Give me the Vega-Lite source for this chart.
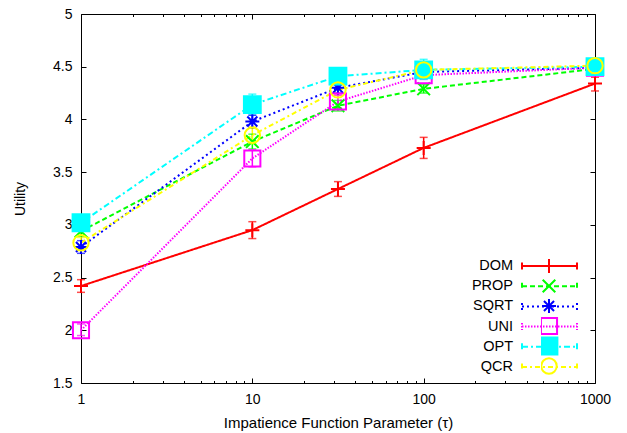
{
  "$schema": "https://vega.github.io/schema/vega-lite/v6.json",
  "autosize": {"type": "none"},
  "width": 514,
  "height": 369,
  "padding": {"left": 81, "top": 14, "right": 32, "bottom": 50},
  "background": "white",
  "config": {
    "view": {"stroke": "black", "strokeWidth": 1},
    "font": "Liberation Sans",
    "legend": {"padding": 0}
  },
  "data": {
    "values": [
      {"series": "DOM", "tau": 1, "utility": 2.42, "lo": 2.36, "hi": 2.48},
      {"series": "DOM", "tau": 10, "utility": 2.95, "lo": 2.87, "hi": 3.03},
      {"series": "DOM", "tau": 31.6, "utility": 3.34, "lo": 3.27, "hi": 3.41},
      {"series": "DOM", "tau": 100, "utility": 3.73, "lo": 3.63, "hi": 3.83},
      {"series": "DOM", "tau": 1000, "utility": 4.34, "lo": 4.27, "hi": 4.4},
      {"series": "PROP", "tau": 1, "utility": 2.94, "lo": 2.89, "hi": 2.99},
      {"series": "PROP", "tau": 10, "utility": 3.79, "lo": 3.72, "hi": 3.86},
      {"series": "PROP", "tau": 31.6, "utility": 4.13, "lo": 4.08, "hi": 4.18},
      {"series": "PROP", "tau": 100, "utility": 4.29, "lo": 4.25, "hi": 4.33},
      {"series": "PROP", "tau": 1000, "utility": 4.48, "lo": 4.45, "hi": 4.51},
      {"series": "SQRT", "tau": 1, "utility": 2.79, "lo": 2.73, "hi": 2.85},
      {"series": "SQRT", "tau": 10, "utility": 3.98, "lo": 3.92, "hi": 4.04},
      {"series": "SQRT", "tau": 31.6, "utility": 4.3, "lo": 4.25, "hi": 4.35},
      {"series": "SQRT", "tau": 100, "utility": 4.45, "lo": 4.41, "hi": 4.49},
      {"series": "SQRT", "tau": 1000, "utility": 4.49, "lo": 4.46, "hi": 4.52},
      {"series": "UNI", "tau": 1, "utility": 2.0, "lo": 1.95, "hi": 2.06},
      {"series": "UNI", "tau": 10, "utility": 3.63, "lo": 3.55, "hi": 3.71},
      {"series": "UNI", "tau": 31.6, "utility": 4.17, "lo": 4.11, "hi": 4.23},
      {"series": "UNI", "tau": 100, "utility": 4.42, "lo": 4.38, "hi": 4.46},
      {"series": "UNI", "tau": 1000, "utility": 4.49, "lo": 4.46, "hi": 4.52},
      {"series": "OPT", "tau": 1, "utility": 3.02, "lo": 2.97, "hi": 3.07},
      {"series": "OPT", "tau": 10, "utility": 4.14, "lo": 4.04, "hi": 4.24},
      {"series": "OPT", "tau": 31.6, "utility": 4.41, "lo": 4.35, "hi": 4.47},
      {"series": "OPT", "tau": 100, "utility": 4.47, "lo": 4.38, "hi": 4.57},
      {"series": "OPT", "tau": 1000, "utility": 4.5, "lo": 4.46, "hi": 4.54},
      {"series": "QCR", "tau": 1, "utility": 2.83, "lo": 2.78, "hi": 2.88},
      {"series": "QCR", "tau": 10, "utility": 3.85, "lo": 3.77, "hi": 3.93},
      {"series": "QCR", "tau": 31.6, "utility": 4.28, "lo": 4.23, "hi": 4.33},
      {"series": "QCR", "tau": 100, "utility": 4.47, "lo": 4.42, "hi": 4.52},
      {"series": "QCR", "tau": 1000, "utility": 4.51, "lo": 4.47, "hi": 4.56}
    ]
  },
  "resolve": {
    "axis": {"x": "independent", "y": "independent"},
    "legend": {"stroke": "independent", "strokeDash": "independent", "shape": "independent", "fill": "independent", "color": "independent", "strokeWidth": "independent"}
  },
  "layer": [
    {
      "mark": {"type": "rule", "strokeWidth": 1.5},
      "encoding": {
        "x": {
          "field": "tau", "type": "quantitative",
          "scale": {"type": "log", "domain": [1, 1000], "nice": false},
          "axis": {
            "orient": "bottom",
            "values": [1,2,3,4,5,6,7,8,9,10,20,30,40,50,60,70,80,90,100,200,300,400,500,600,700,800,900,1000],
            "labelExpr": "indexof([1,10,100,1000], datum.value) >= 0 ? datum.value + '' : ''",
            "labelOverlap": false,
            "labelFlush": false,
            "tickSize": {"condition": {"test": "indexof([1,10,100,1000], datum.value) >= 0", "value": -5}, "value": -2.5},
            "labelPadding": 14,
            "tickColor": "black",
            "tickWidth": 1,
            "domain": false,
            "grid": false,
            "labelFont": "Liberation Sans",
            "labelFontSize": 14,
            "labelColor": "black",
            "title": "Impatience Function Parameter (τ)",
            "titleFont": "Liberation Sans",
            "titleFontSize": 15,
            "titleFontWeight": "normal",
            "titleColor": "black",
            "titlePadding": 7
          }
        },
        "y": {
          "field": "lo", "type": "quantitative",
          "scale": {"domain": [1.5, 5], "nice": false, "zero": false},
          "axis": {
            "orient": "left",
            "values": [1.5, 2, 2.5, 3, 3.5, 4, 4.5, 5],
            "labelExpr": "datum.value + ''",
            "tickSize": -5,
            "labelPadding": 14,
            "tickColor": "black",
            "domain": false,
            "grid": false,
            "labelFont": "Liberation Sans",
            "labelFontSize": 14,
            "labelColor": "black",
            "title": "Utility",
            "titleFont": "Liberation Sans",
            "titleFontSize": 14,
            "titleFontWeight": "normal",
            "titleColor": "black",
            "titlePadding": 25
          }
        },
        "y2": {"field": "hi"},
        "stroke": {
          "field": "series", "type": "nominal",
          "scale": {"domain": ["DOM","PROP","SQRT","UNI","OPT","QCR"], "range": ["#ff0000","#00ff00","#0000ff","#ff00ff","#00ffff","#ffff00"]},
          "legend": null
        }
      }
    },
    {
      "mark": {"type": "tick", "orient": "horizontal", "size": 8, "thickness": 1.5},
      "encoding": {
        "x": {
          "field": "tau", "type": "quantitative",
          "axis": {
            "orient": "top",
            "values": [1,2,3,4,5,6,7,8,9,10,20,30,40,50,60,70,80,90,100,200,300,400,500,600,700,800,900,1000],
            "labels": false,
            "tickSize": {"condition": {"test": "indexof([1,10,100,1000], datum.value) >= 0", "value": -5}, "value": -2.5},
            "tickColor": "black",
            "domain": false,
            "grid": false,
            "title": null
          }
        },
        "y": {
          "field": "lo", "type": "quantitative",
          "axis": {
            "orient": "right",
            "values": [1.5, 2, 2.5, 3, 3.5, 4, 4.5, 5],
            "labels": false,
            "tickSize": -5,
            "tickColor": "black",
            "domain": false,
            "grid": false,
            "title": null
          }
        },
        "color": {
          "field": "series", "type": "nominal",
          "scale": {"domain": ["DOM","PROP","SQRT","UNI","OPT","QCR"], "range": ["#ff0000","#00ff00","#0000ff","#ff00ff","#00ffff","#ffff00"]},
          "legend": null
        }
      }
    },
    {
      "mark": {"type": "tick", "orient": "horizontal", "size": 8, "thickness": 1.5},
      "encoding": {
        "x": {"field": "tau", "type": "quantitative", "axis": null},
        "y": {"field": "hi", "type": "quantitative", "axis": null},
        "color": {"field": "series", "type": "nominal", "legend": null}
      }
    },
    {
      "mark": {"type": "line"},
      "encoding": {
        "x": {"field": "tau", "type": "quantitative", "axis": null},
        "y": {"field": "utility", "type": "quantitative", "axis": null},
        "stroke": {
          "field": "series", "type": "nominal",
          "legend": {
            "orient": "none", "legendX": 457.5, "legendY": 241, "title": null,
            "symbolType": "M-2.75,0H2.75M-2.75,-0.35V0.35M2.75,-0.35V0.35",
            "symbolSize": 400, "symbolStrokeWidth": 1.5, "symbolFillColor": "transparent",
            "labelAlign": "right", "labelOffset": -47.5,
            "labelFont": "Liberation Sans", "labelFontSize": 14.5, "labelColor": "black", "labelLimit": 200,
            "rowPadding": 1.2, "padding": 0
          }
        },
        "strokeDash": {
          "field": "series", "type": "nominal",
          "scale": {"domain": ["DOM","PROP","SQRT","UNI","OPT","QCR"], "range": [[1,0],[5,3],[2,3],[1.5,1.5],[6,3,2,3],[5,3,2,3]]},
          "legend": {
            "orient": "none", "legendX": 457.5, "legendY": 241, "title": null,
            "symbolType": "M-2.75,0H2.75M-2.75,-0.35V0.35M2.75,-0.35V0.35",
            "symbolSize": 400, "symbolStrokeWidth": 1.5, "symbolFillColor": "transparent",
            "labelAlign": "right", "labelOffset": -47.5,
            "labelFont": "Liberation Sans", "labelFontSize": 14.5, "labelColor": "black", "labelLimit": 200,
            "rowPadding": 1.2, "padding": 0
          }
        },
        "strokeWidth": {
          "field": "series", "type": "nominal",
          "scale": {"domain": ["DOM","PROP","SQRT","UNI","OPT","QCR"], "range": [2, 2, 2, 1, 1.5, 2]},
          "legend": null
        }
      }
    },
    {
      "mark": {"type": "point", "size": 196, "strokeWidth": 2, "opacity": 1},
      "encoding": {
        "x": {"field": "tau", "type": "quantitative", "axis": null},
        "y": {"field": "utility", "type": "quantitative", "axis": null},
        "stroke": {
          "field": "series", "type": "nominal",
          "legend": {
            "orient": "none", "legendX": 460, "legendY": 242, "title": null,
            "symbolSize": 196, "symbolStrokeWidth": 2,
            "labelExpr": "''", "clipHeight": 20, "rowPadding": 0, "padding": 0
          }
        },
        "shape": {
          "field": "series", "type": "nominal",
          "scale": {"domain": ["DOM","PROP","SQRT","UNI","OPT","QCR"], "range": [
            "M-1,0H1M0,-1V1",
            "M-0.9,-0.9L0.9,0.9M-0.9,0.9L0.9,-0.9",
            "M-1,0H1M0,-1V1M-0.72,-0.72L0.72,0.72M-0.72,0.72L0.72,-0.72",
            "M-1.15,-1.15H1.15V1.15H-1.15Z",
            "M-1.2,-1.2H1.2V1.2H-1.2Z",
            "M-1.1,0A1.1,1.1,0,1,1,1.1,0A1.1,1.1,0,1,1,-1.1,0Z"
          ]},
          "legend": {
            "orient": "none", "legendX": 460, "legendY": 242, "title": null,
            "symbolSize": 196, "symbolStrokeWidth": 2,
            "labelExpr": "''", "clipHeight": 20, "rowPadding": 0, "padding": 0
          }
        },
        "fill": {
          "field": "series", "type": "nominal",
          "scale": {"domain": ["DOM","PROP","SQRT","UNI","OPT","QCR"], "range": ["transparent","transparent","transparent","transparent","#00ffff","transparent"]},
          "legend": {
            "orient": "none", "legendX": 460, "legendY": 242, "title": null,
            "symbolSize": 196, "symbolStrokeWidth": 2,
            "labelExpr": "''", "clipHeight": 20, "rowPadding": 0, "padding": 0
          }
        }
      }
    }
  ]
}
